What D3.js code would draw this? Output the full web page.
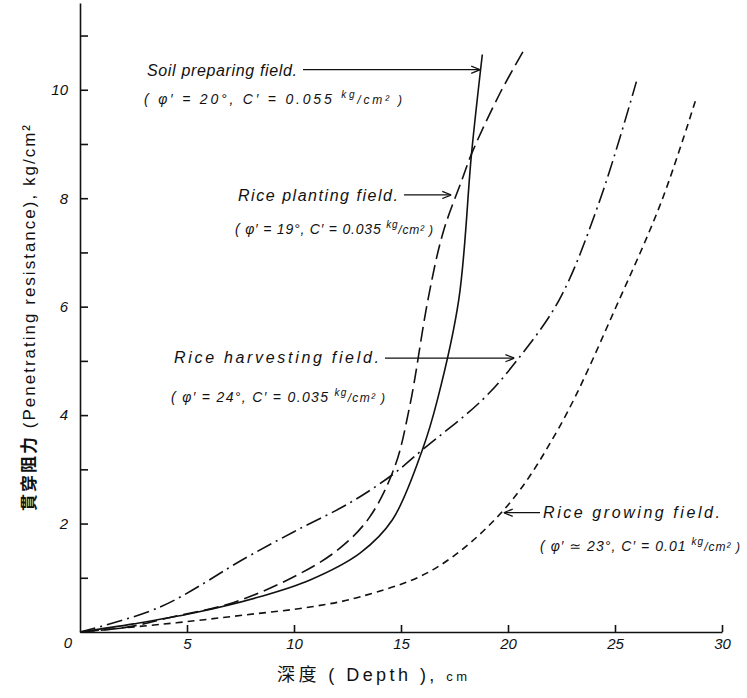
<!DOCTYPE html>
<html>
<head>
<meta charset="utf-8">
<script src="https://cdn.jsdelivr.net/npm/d3@7"></script>
<style>
  body { margin: 0; background: #fff; }
  svg { display: block; background: #fff; }
  text { font-family: "Liberation Sans", "DejaVu Sans", sans-serif; fill: #111; }
  .hand { font-style: italic; }
  .axis path, .axis line { stroke: #111; stroke-width: 1.6; }
  .curve { fill: none; stroke: #111; stroke-width: 1.6; }
</style>
</head>
<body>
<svg></svg>
<script>
var width = 747, height = 698;

// tick labels
var xTicks = [5, 10, 15, 20, 25, 30];
var yTicks = [1, 2, 3, 4, 5, 6, 7, 8, 9, 10, 11];

// depth (cm) vs penetrating resistance (kg/cm2)
var soilDepth = [0, 2.5, 5.3, 8.4, 10.75, 13.1, 14.6, 16.0, 16.7, 17.7, 18.3, 18.8];
var soilValue = [0, 0.15, 0.35, 0.65, 0.96, 1.46, 2.07, 3.36, 4.28, 6.13, 8.84, 10.65];

var plantDepth = [0, 2.2, 4.35, 7.15, 9.95, 12.0, 13.5, 14.7, 15.42, 16.26, 16.96, 17.85, 18.32, 19.63, 20.7];
var plantValue = [0, 0.09, 0.28, 0.54, 1.01, 1.5, 2.1, 3.04, 4.19, 6.13, 7.36, 8.34, 8.84, 9.94, 10.7];

var harvestDepth = [0, 3.74, 7.8, 10.0, 12.6, 14.6, 16.0, 18.8, 20.4, 22.4, 24.3, 26.0];
var harvestValue = [0, 0.46, 1.38, 1.85, 2.38, 2.9, 3.36, 4.28, 5.0, 6.13, 7.97, 10.15];

var growDepth = [0, 4.5, 7.6, 10.75, 13.1, 16.5, 19.8, 22.4, 25.2, 27.2, 28.8];
var growValue = [0, 0.17, 0.31, 0.46, 0.65, 1.15, 2.25, 3.78, 6.13, 7.97, 9.85];

var svg = d3.select("svg")
  .attr("width", width)
  .attr("height", height);

var x = d3.scaleLinear().domain([0, 30]).range([80, 722]);
var y = d3.scaleLinear().domain([0, 11.6]).range([632, 3]);

// axes, ticks pointing inward like the hand drawing
svg.append("g")
  .attr("class", "axis hand")
  .attr("transform", "translate(0," + y(0) + ")")
  .call(d3.axisBottom(x).tickValues(xTicks).tickSizeInner(-7).tickSizeOuter(0).tickPadding(6))
  .call(function(g){
    g.selectAll("text").attr("font-size", 15).attr("font-family", "Liberation Sans");
  });

svg.append("g")
  .attr("class", "axis hand")
  .attr("transform", "translate(" + x(0) + ",0)")
  .call(d3.axisLeft(y).tickValues(yTicks).tickSizeInner(-8).tickSizeOuter(0).tickPadding(12)
    .tickFormat(function(d){ return d % 2 === 0 ? d : ""; }))
  .call(function(g){
    g.selectAll("text").attr("font-size", 15).attr("font-family", "Liberation Sans");
  });

svg.append("text")
  .attr("class", "hand")
  .attr("x", 68).attr("y", 648)
  .attr("text-anchor", "middle")
  .attr("font-size", 15)
  .text("0");

// curves
var line = d3.line()
  .x(function(d){ return x(d[0]); })
  .y(function(d){ return y(d[1]); })
  .curve(d3.curveCatmullRom.alpha(0.5));

var series = [
  {depth: soilDepth, value: soilValue, dash: null},
  {depth: plantDepth, value: plantValue, dash: "15,6"},
  {depth: harvestDepth, value: harvestValue, dash: "16,5,2,5"},
  {depth: growDepth, value: growValue, dash: "7,5"}
];

svg.selectAll(".curve")
  .data(series)
  .enter()
  .append("path")
  .attr("class", "curve")
  .attr("stroke-dasharray", function(d){ return d.dash; })
  .attr("d", function(d){ return line(d.depth.map(function(v, i){ return [v, d.value[i]]; })); });

// annotations: text position / width in px, arrow target in data units
var annotations = [
  {l1: "Soil preparing field.", l2: "( \u03C6\u2032 = 20\u00B0,   C\u2032 = 0.055 ", tx: 147, ty1: 76, ty2: 104, w1: 150, w2: 258, target: [18.7, 10.37], side: "right"},
  {l1: "Rice planting field.", l2: "( \u03C6\u2032 = 19\u00B0,  C\u2032 = 0.035 ", tx: 238, ty1: 201, ty2: 234, w1: 160, w2: 198, target: [17.35, 8.06], side: "right"},
  {l1: "Rice harvesting field.", l2: "( \u03C6\u2032 = 24\u00B0,  C\u2032 = 0.035 ", tx: 174, ty1: 363, ty2: 402, w1: 205, w2: 214, target: [20.3, 5.05], side: "right"},
  {l1: "Rice growing field.", l2: "( \u03C6\u2032 \u2243 23\u00B0,  C\u2032 = 0.01 ", tx: 543, ty1: 518, ty2: 551, w1: 177, w2: 200, target: [19.8, 2.2], side: "left"}
];

svg.append("defs").append("marker")
  .attr("id", "arrow")
  .attr("viewBox", "0 0 10 10")
  .attr("refX", 10).attr("refY", 5)
  .attr("markerWidth", 9).attr("markerHeight", 9)
  .attr("markerUnits", "userSpaceOnUse")
  .attr("orient", "auto")
  .append("path")
  .attr("d", "M0,1 L10,5 L0,9")
  .attr("fill", "none")
  .attr("stroke", "#111")
  .attr("stroke-width", 1.4);

annotations.forEach(function(a){
  svg.append("text")
    .attr("class", "hand")
    .attr("x", a.tx).attr("y", a.ty1)
    .attr("font-size", 16)
    .attr("textLength", a.w1)
    .attr("lengthAdjust", "spacing")
    .text(a.l1);

  var t2 = svg.append("text")
    .attr("class", "hand")
    .attr("x", a.tx - 3).attr("y", a.ty2)
    .attr("font-size", 14)
    .attr("textLength", a.w2)
    .attr("lengthAdjust", "spacing");
  t2.append("tspan").text(a.l2);
  t2.append("tspan").attr("font-size", 10).attr("dy", -6).text("kg");
  t2.append("tspan").attr("font-size", 12).attr("dy", 6).text("/cm\u00B2 )");

  var ax = x(a.target[0]), ay = y(a.target[1]);
  var x0 = a.side === "right" ? a.tx + a.w1 + 6 : a.tx - 3;
  svg.append("line")
    .attr("x1", x0).attr("y1", ay)
    .attr("x2", ax).attr("y2", ay)
    .attr("stroke", "#111")
    .attr("stroke-width", 1.3)
    .attr("marker-end", "url(#arrow)");
});

// axis titles
svg.append("text")
  .attr("transform", "translate(35,318) rotate(-90)")
  .attr("text-anchor", "middle")
  .attr("font-size", 17)
  .attr("textLength", 386)
  .attr("lengthAdjust", "spacing")
  .html('<tspan font-family="Noto Sans CJK TC" font-weight="bold">\u8CAB\u7A7F\u963B\u529B</tspan> (Penetrating resistance), kg/cm\u00B2');

svg.append("text")
  .attr("x", 372).attr("y", 681)
  .attr("text-anchor", "middle")
  .attr("font-size", 18)
  .attr("textLength", 190)
  .attr("lengthAdjust", "spacing")
  .html('<tspan font-family="Noto Sans CJK TC">\u6DF1\u5EA6</tspan> ( Depth ), <tspan font-size="13">cm</tspan>');
</script>
</body>
</html>
